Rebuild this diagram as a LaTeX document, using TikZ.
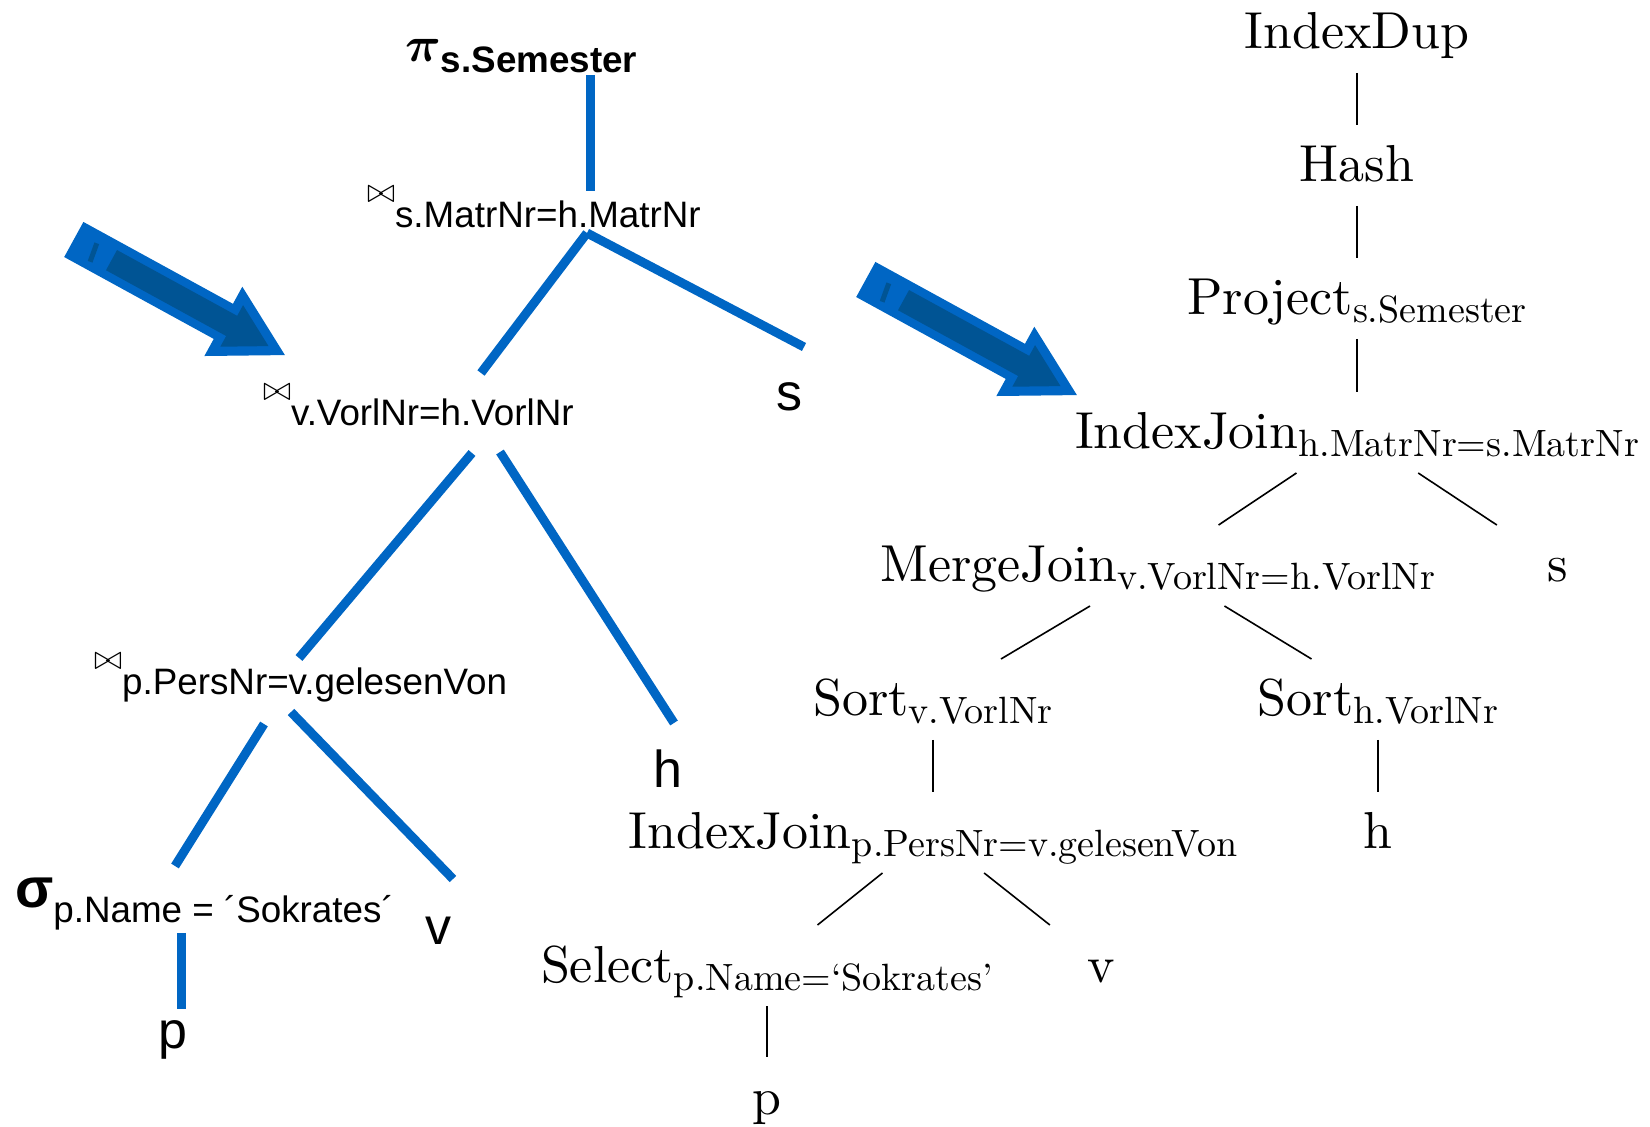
\documentclass[tikz,border=0pt]{standalone}
\usepackage{amsmath}
\usepackage{fontspec}
\newfontfamily\arial{Liberation Sans}
\newfontfamily\cmten{lmroman10-regular}[Extension=.otf, Ligatures=TeX]
\definecolor{barblue}{RGB}{0,102,196}
\definecolor{darkblue}{RGB}{0,84,148}
\newcommand{\jn}{\raisebox{12.5pt}{$\bowtie$}}
\newcommand{\op}[2]{#1\raisebox{-4pt}{\fontsize{19}{19}\selectfont #2}}
\tikzset{
	rnode/.style={anchor=base, inner sep=0pt, outer sep=0pt, minimum width=70pt, text height=28.5pt, text depth=12pt, font=\cmten\fontsize{26}{30}\selectfont},
	redge/.style={line width=0.8pt},
	lnode/.style={anchor=base west, inner sep=0pt, outer sep=0pt, font=\arial\fontsize{18.4}{21}\selectfont},
	lleaf/.style={lnode, font=\arial\fontsize{26}{30}\selectfont},
	bluebar/.style={draw=barblue, line width=4.5pt},
}
\begin{document}
\begin{tikzpicture}[x=0.5pt, y=-0.5pt]
			\useasboundingbox (0,0) rectangle (1650,1127);
			% the two big arrows
			\foreach \ax/\ay in {73.8/239.5, 865.8/279.5}{
				\begin{scope}[shift={(\ax,\ay)}, rotate=-28.7]
					\fill[barblue] (0,20) -- (170.5,20) -- (170.5,39.5) -- (240.7,0) -- (170.5,-39.5) -- (170.5,-20) -- (0,-20) -- cycle;
					\fill[darkblue] (43,11.5) -- (180,11.5) -- (180,23.7) -- (222,0) -- (180,-23.7) -- (180,-11.5) -- (43,-11.5) -- cycle;
					\draw[darkblue, line width=2.5pt] (22,-7.7) -- (25,11.7);
				\end{scope}
			}
			% relational algebra tree
			\node[lnode] (lpi) at (405,73) {\raisebox{5.5pt}{\fontsize{23}{23}\selectfont$\boldsymbol{\pi}$}\textbf{s.Semester}};
			\node[lnode] (lsj) at (367,228) {\jn s.MatrNr=h.MatrNr};
			\node[lnode] (lvj) at (263,426) {\jn v.VorlNr=h.VorlNr};
			\node[lnode] (lpj) at (94,695) {\jn p.PersNr=v.gelesenVon};
			\node[lnode] (lsel) at (15,922) {\raisebox{7.5pt}{\fontsize{28}{28}\selectfont\bfseries σ}p.Name = ´Sokrates´};
			\node[lleaf] (ls) at (776,411) {s};
			\node[lleaf] (lh) at (653,788) {h};
			\node[lleaf] (lv) at (425,944) {v};
			\node[lleaf] (lp) at (158,1048) {p};
			\draw[bluebar] ([shift={(185,2)}]lpi.base west) -- ([shift={(223,-37)}]lsj.base west);
			\draw[bluebar] ([shift={(220,5)}]lsj.base west) -- ([shift={(218,-53)}]lvj.base west);
			\draw[bluebar] ([shift={(220,5)}]lsj.base west) -- ([shift={(28,-64)}]ls.base west);
			\draw[bluebar] ([shift={(209,27)}]lvj.base west) -- ([shift={(205,-37)}]lpj.base west);
			\draw[bluebar] ([shift={(237,26)}]lvj.base west) -- ([shift={(21,-65)}]lh.base west);
			\draw[bluebar] ([shift={(170,29)}]lpj.base west) -- ([shift={(160,-56)}]lsel.base west);
			\draw[bluebar] ([shift={(197,17)}]lpj.base west) -- ([shift={(28,-65)}]lv.base west);
			\draw[bluebar] ([shift={(166,11)}]lsel.base west) -- ([shift={(23,-39)}]lp.base west);
			% physical plan
			\node[rnode] (dup) at (1357,49) {IndexDup};
			\node[rnode] (hash) at (1357,182) {Hash};
			\node[rnode] (proj) at (1357,315) {\op{Project}{s.Semester}};
			\node[rnode] (ij1) at (1357,449) {\op{IndexJoin}{h.MatrNr=s.MatrNr}};
			\node[rnode] (mj) at (1158,582) {\op{MergeJoin}{v.VorlNr=h.VorlNr}};
			\node[rnode] (rs) at (1558,582) {s};
			\node[rnode] (sortv) at (933,716) {\op{Sort}{v.VorlNr}};
			\node[rnode] (sorth) at (1378,716) {\op{Sort}{h.VorlNr}};
			\node[rnode] (ij2) at (933,849) {\op{IndexJoin}{p.PersNr=v.gelesenVon}};
			\node[rnode] (rh) at (1378,849) {h};
			\node[rnode] (sel) at (767,982) {\op{Select}{p.Name=‘Sokrates’}};
			\node[rnode] (rv) at (1101,982) {v};
			\node[rnode] (rp) at (767,1114) {p};
			\draw[redge] (dup) -- (hash);
			\draw[redge] (hash) -- (proj);
			\draw[redge] (proj) -- (ij1);
			\draw[redge] (ij1) -- (mj);
			\draw[redge] (ij1) -- (rs);
			\draw[redge] (mj) -- (sortv);
			\draw[redge] (mj) -- (sorth);
			\draw[redge] (sortv) -- (ij2);
			\draw[redge] (sorth) -- (rh);
			\draw[redge] (ij2) -- (sel);
			\draw[redge] (ij2) -- (rv);
			\draw[redge] (sel) -- (rp);
\end{tikzpicture}
\end{document}
